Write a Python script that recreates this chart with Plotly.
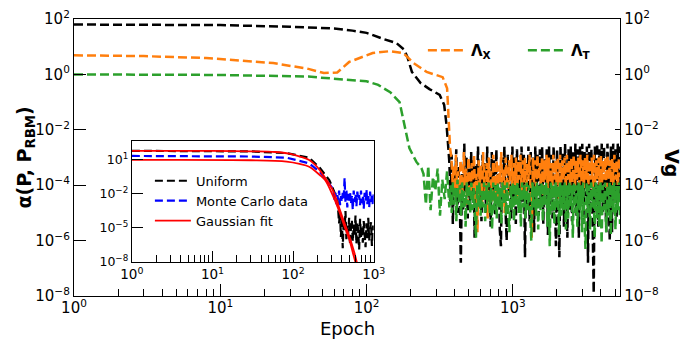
import numpy as np
import plotly.graph_objects as go

# ---------------- data (values are log10 of the plotted quantity) ----------------
# main panel, smooth parts: epochs and log10 values
black_ep = [1, 10, 30, 60, 80, 100, 130, 160, 180, 190, 204, 220, 234, 269, 316, 339, 352, 362]
black_log = [1.80, 1.78, 1.72, 1.66, 1.58, 1.50, 1.28, 1.13, 0.90, 0.63, 0.09, -0.15, -0.31,
             -0.53, -0.74, -1.10, -1.83, -2.66]
orange_ep = [1, 3, 8, 23, 40, 51, 63, 76, 110, 145, 178, 209, 257, 331, 355, 363, 372]
orange_log = [0.69, 0.66, 0.59, 0.41, 0.20, 0.05, 0.07, 0.45, 0.77, 0.84, 0.77, 0.41, 0.09,
              -0.10, -0.50, -1.47, -2.66]
green_ep = [1, 10, 40, 100, 120, 145, 168, 176, 196, 219, 237]
green_log = [0.00, -0.02, -0.08, -0.25, -0.38, -0.64, -1.00, -1.47, -2.66, -3.16, -3.38]

# green: first, sparse oscillations right after its drop (log10 values)
green_early_log = [-3.6, -4.7, -3.3, -4.9, -3.7, -4.2, -3.4, -5.1, -3.8, -4.5, -3.5, -4.8]
green_early_span = (245, 368)

# main panel, noisy parts (log10 values)
black_noise_log = [
    -3.2, -4.6, -2.9, -5.4, -3.5, -4.2, -2.7, -5.0, -3.3, -4.4,
    -6.8, -3.6, -4.9, -2.5, -4.3, -3.0, -5.2, -3.4, -4.7, -2.8,
    -4.5, -3.1, -5.9, -3.3, -4.1, -2.6, -4.8, -3.5, -5.3, -2.9,
    -4.4, -3.2, -5.0, -2.6, -4.6, -3.4, -5.5, -2.8, -4.2, -3.1,
    -5.1, -2.7, -4.5, -3.3, -5.6, -6.2, -3.0, -4.3, -2.6, -4.9,
    -6.0, -2.9, -4.4, -3.2, -5.2, -2.6, -4.7, -3.0, -5.4, -2.7,
    -4.3, -3.1, -5.0, -2.6, -4.6, -2.9, -6.6, -3.2, -4.8, -2.6,
    -5.3, -2.8, -4.5, -3.0, -5.7, -2.6, -4.4, -2.9, -5.1, -2.7,
    -4.6, -2.6, -5.4, -3.0, -4.2, -2.7, -5.8, -2.6, -4.7, -2.9,
    -5.2, -2.6, -4.4, -6.2, -2.7, -5.0, -6.6, -2.6, -4.6, -2.8,
    -5.5, -2.5, -4.3, -5.9, -2.7, -4.9, -2.6, -5.3, -2.8, -4.5,
    -2.5, -5.1, -2.7, -5.9, -2.6, -4.7, -2.5, -5.4, -2.8, -4.4,
    -2.6, -6.8, -2.5, -4.8, -2.7, -5.2, -7.9, -2.6, -4.6, -2.5,
    -5.5, -2.7, -4.3, -2.5, -5.0, -2.6, -4.7, -5.7, -2.5, -4.9,
    -6.0, -2.6, -5.7, -2.5, -4.5, -2.7, -5.2, -2.5, -4.4, -2.6]
orange_noise_log = [
    -3.0, -3.9, -3.3, -4.4, -2.9, -4.1, -3.5, -4.6, -3.1, -3.8,
    -4.3, -2.8, -4.0, -3.4, -4.7, -3.0, -3.9, -4.4, -3.2, -4.1,
    -2.9, -4.5, -3.6, -5.7, -3.1, -4.0, -3.3, -4.8, -2.8, -3.9,
    -4.2, -3.2, -5.2, -3.0, -4.0, -3.5, -4.6, -2.9, -3.8, -4.3,
    -3.1, -4.5, -3.3, -3.9, -2.8, -4.2, -3.4, -5.0, -3.0, -3.8,
    -4.4, -3.1, -3.9, -2.9, -4.3, -3.2, -4.0, -3.0, -4.6, -3.1,
    -3.8, -2.9, -4.2, -3.1, -3.9, -3.0, -4.5, -3.2, -3.8, -2.9,
    -4.1, -5.9, -3.0, -3.9, -3.1, -4.3, -2.9, -3.8, -3.2, -4.0,
    -3.0, -4.4, -3.1, -3.8, -2.9, -4.1, -3.0, -3.9, -3.2, -4.2,
    -2.9, -3.8, -3.1, -4.0, -3.0, -4.5, -2.9, -3.9, -3.1, -3.8,
    -3.0, -4.1, -2.9, -3.8, -3.1, -4.0, -3.0, -3.9, -2.9, -4.2,
    -3.1, -3.8, -3.0, -4.0, -2.9, -3.9, -3.1, -4.1, -3.0, -3.8,
    -2.9, -4.0, -3.1, -3.8, -3.0, -4.2, -2.9, -3.9, -3.1, -3.8,
    -3.0, -4.0, -2.9, -3.9, -3.1, -3.8, -3.0, -4.1, -2.9, -3.8,
    -3.1, -3.9, -3.0, -4.0, -2.9, -3.8, -3.1, -4.0, -3.0, -3.7]
green_noise_log = [
    -4.0, -5.0, -3.9, -4.7, -4.1, -5.3, -3.8,
    -4.6, -4.0, -5.1, -3.9, -4.8, -4.2, -5.5, -3.9, -4.7, -4.0, -5.0,
    -3.9, -4.9, -4.1, -5.2, -5.9, -4.0, -4.8, -3.9, -5.1, -4.2,
    -4.8, -3.9, -5.3, -4.0, -4.7, -3.9, -5.0, -4.1, -5.6, -3.9,
    -4.9, -4.0, -5.2, -3.9, -4.8, -4.1, -5.4, -3.9, -4.7, -4.0,
    -5.1, -3.9, -4.8, -5.7, -4.0, -4.9, -3.9, -5.3, -4.0, -4.7,
    -3.9, -5.0, -4.1, -5.5, -3.9, -4.8, -4.0, -5.2, -3.9, -4.9,
    -4.0, -5.4, -6.0, -3.9, -4.8, -4.0, -5.1, -3.9, -5.6, -4.0,
    -4.9, -3.9, -5.3, -4.0, -4.7, -3.9, -5.5, -4.1, -6.2, -3.9,
    -5.0, -4.0, -5.4, -3.9, -4.8, -4.0, -5.8, -3.9, -5.1, -4.0,
    -4.9, -3.9, -5.6, -4.0, -5.2, -3.9, -4.8, -4.0, -5.9, -3.9,
    -5.0, -4.0, -5.5, -3.9, -4.9, -4.0, -5.7, -3.9, -5.2, -6.3,
    -3.9, -5.0, -4.0, -5.6, -3.9, -4.8, -4.0, -5.9, -3.9, -5.2,
    -4.0, -5.5, -3.9, -6.1, -4.0, -4.9, -3.9, -5.7, -4.0, -5.1,
    -3.9, -5.8, -4.0, -5.0, -3.9, -5.6, -4.0, -4.9, -3.9, -5.4]
black_noise_span = (368, 5400)
orange_noise_span = (380, 5400)
green_noise_span = (375, 5400)

# inset
in_black_ep = [1, 30, 83, 158, 214, 282, 355]
in_black_log = [1.80, 1.75, 1.60, 1.20, 0.30, -0.80, -2.50]
in_black_noise_log = [
    -3.2, -4.6, -3.6, -5.8, -4.0, -6.8, -4.4, -5.2, -3.5, -6.0,
    -4.8, -5.5, -4.1, -6.5, -5.0, -4.3, -6.2, -4.7, -5.6, -3.9,
    -6.4, -4.5, -5.3, -6.9, -4.2, -5.8, -4.9, -6.3, -4.4, -5.5,
    -6.7, -4.6, -5.9, -4.1, -6.1, -5.0, -4.5, -6.6, -4.8, -5.4]
in_blue_ep = [1, 30, 83, 158, 214, 257, 309]
in_blue_log = [1.35, 1.30, 1.20, 0.70, -0.05, -0.80, -1.50]
in_blue_noise_log = [
    -1.8, -2.6, -1.9, -2.9, -2.1, -2.5, -1.7, -3.0, -2.2, -2.7,
    -1.9, -2.4, -0.6, -2.8, -1.6, -3.2, -2.0, -2.6, -1.8, -2.9,
    -2.2, -3.4, -1.7, -2.7, -2.0, -3.1, -1.8, -2.5, -2.1, -3.0,
    -1.7, -2.8, -2.2, -3.3, -1.9, -2.6, -1.6, -2.9, -2.1, -3.2,
    -1.8, -2.7, -2.0, -3.0, -1.9]
in_black_noise_span = (362, 1000)
in_blue_noise_span = (318, 1000)
fit_hi_ep = [1, 10, 30, 60, 90, 120, 158, 185, 214, 250, 280, 309, 345, 380, 430, 501, 575, 640]
fit_hi_log = [1.80, 1.79, 1.76, 1.70, 1.55, 1.30, 1.00, 0.60, 0.10, -0.60, -1.10, -1.65,
              -2.50, -3.40, -4.50, -5.80, -7.20, -8.50]
fit_lo_ep = [1, 30, 83, 120, 158, 214, 250, 309, 345, 380, 430, 501, 560, 620]
fit_lo_log = [1.00, 0.97, 0.85, 0.65, 0.40, -0.33, -0.80, -2.10, -2.90, -3.70, -4.80,
              -6.10, -7.40, -8.50]

# tick labels
main_x_tickvals = [1, 10, 100, 1000]
main_x_ticktext = ["10<sup>0</sup>", "10<sup>1</sup>", "10<sup>2</sup>", "10<sup>3</sup>"]
main_y_tickvals = [1e-8, 1e-6, 1e-4, 1e-2, 1, 1e2]
main_y_ticktext = ["10<sup>−8</sup>", "10<sup>−6</sup>", "10<sup>−4</sup>", "10<sup>−2</sup>",
                   "10<sup>0</sup>", "10<sup>2</sup>"]
in_y_tickvals = [1e-8, 1e-5, 1e-2, 10]
in_y_ticktext = ["10<sup>−8</sup>", "10<sup>−5</sup>", "10<sup>−2</sup>", "10<sup>1</sup>"]
minor_vals = [m * 10 ** k for k in range(4) for m in range(2, 10)]


def series(ep, logv, parts=()):
    x = list(ep)
    y = list(logv)
    for noise_log, span in parts:
        x += list(np.geomspace(span[0], span[1], len(noise_log)))
        y += list(noise_log)
    return np.array(x), 10 ** np.array(y)


FONT = "DejaVu Sans"
DASH = "9px,4px"
fig = go.Figure()

bx, by = series(black_ep, black_log, [(black_noise_log, black_noise_span)])
ox, oy = series(orange_ep, orange_log, [(orange_noise_log, orange_noise_span)])
gx, gy = series(green_ep, green_log, [(green_early_log, green_early_span),
                                      (green_noise_log, green_noise_span)])
fig.add_trace(go.Scatter(x=bx, y=by, mode="lines", name="Vg", showlegend=False,
                         line=dict(color="black", width=2.5, dash=DASH), xaxis="x", yaxis="y"))
fig.add_trace(go.Scatter(x=ox, y=oy, mode="lines", name="<b>Λ<sub>X</sub></b>", legend="legend",
                         line=dict(color="#ff7f0e", width=2.5, dash=DASH), xaxis="x", yaxis="y2"))
fig.add_trace(go.Scatter(x=gx, y=gy, mode="lines", name="<b>Λ<sub>T</sub></b>", legend="legend",
                         line=dict(color="#2ca02c", width=2.5, dash=DASH), xaxis="x", yaxis="y2"))

ibx, iby = series(in_black_ep, in_black_log, [(in_black_noise_log, in_black_noise_span)])
iux, iuy = series(in_blue_ep, in_blue_log, [(in_blue_noise_log, in_blue_noise_span)])
fhx, fhy = series(fit_hi_ep, fit_hi_log)
flx, fly = series(fit_lo_ep, fit_lo_log)
fig.add_trace(go.Scatter(x=ibx, y=iby, mode="lines", name="Uniform", legend="legend2",
                         line=dict(color="black", width=2.2, dash="8px,4px"), xaxis="x2", yaxis="y3"))
fig.add_trace(go.Scatter(x=iux, y=iuy, mode="lines", name="Monte Carlo data", legend="legend2",
                         line=dict(color="#0000ff", width=2.2, dash="8px,4px"), xaxis="x2", yaxis="y3"))
fig.add_trace(go.Scatter(x=fhx, y=fhy, mode="lines", name="Gaussian fit", legend="legend2",
                         line=dict(color="#ff0000", width=1.8, shape="spline"), xaxis="x2", yaxis="y3"))
fig.add_trace(go.Scatter(x=flx, y=fly, mode="lines", name="Gaussian fit", showlegend=False,
                         line=dict(color="#ff0000", width=1.8, shape="spline"), xaxis="x2", yaxis="y3"))

axis_common = dict(showgrid=False, zeroline=False, showline=True, linecolor="black",
                   ticks="inside", tickcolor="black", tickwidth=1, automargin=False)

fig.update_layout(
    width=692, height=339,
    margin=dict(l=74, r=72, t=19, b=43),
    paper_bgcolor="white", plot_bgcolor="white",
    font=dict(family=FONT, color="black"),
    xaxis=dict(type="log", range=[0, 3.732], domain=[0, 1], anchor="y",
               tickvals=main_x_tickvals, ticktext=main_x_ticktext, ticklen=12,
               linewidth=1.3, mirror=True, tickfont=dict(size=15), ticklabelstandoff=-2,
               minor=dict(ticks="inside", ticklen=7, tickvals=minor_vals, tickcolor="black",
                          showgrid=False),
               **axis_common),
    yaxis=dict(type="log", range=[-8, 2], anchor="x", tickvals=main_y_tickvals,
               ticktext=main_y_ticktext, ticklen=12, linewidth=1.3, tickfont=dict(size=15),
               **axis_common),
    yaxis2=dict(type="log", range=[-8, 2], anchor="x", overlaying="y", side="right",
                tickvals=main_y_tickvals, ticktext=main_y_ticktext, ticklen=5, linewidth=1.3,
                tickfont=dict(size=15), **axis_common),
    xaxis2=dict(type="log", range=[0, 3], domain=[0.106, 0.549], anchor="y3",
                tickvals=main_x_tickvals, ticktext=main_x_ticktext, ticklen=11,
                linewidth=1.2, mirror=True, tickfont=dict(size=13.5),
                minor=dict(ticks="inside", ticklen=7, tickvals=minor_vals[:24], tickcolor="black",
                           showgrid=False),
                **axis_common),
    yaxis3=dict(type="log", range=[-8, 2.68], domain=[0.123, 0.56], anchor="x2",
                tickvals=in_y_tickvals, ticktext=in_y_ticktext, ticklen=11, linewidth=1.2,
                mirror=True, tickfont=dict(size=12.5), **axis_common),
    legend=dict(orientation="h", x=0.639, xanchor="left", y=0.946, yanchor="top",
                bgcolor="rgba(0,0,0,0)", font=dict(size=15), itemwidth=38,
                entrywidth=47, entrywidthmode="pixels"),
    legend2=dict(orientation="v", x=0.139, xanchor="left", y=0.47, yanchor="top",
                 bgcolor="rgba(0,0,0,0)", font=dict(size=13), itemwidth=36),
    annotations=[
        dict(text="<b>α(P, P<sub>RBM</sub>)</b>", xref="paper", yref="paper", x=-0.0897, y=0.5,
             xanchor="center", yanchor="middle", textangle=-90, showarrow=False,
             font=dict(size=19)),
        dict(text="<b>Vg</b>", xref="paper", yref="paper", x=1.095, y=0.48,
             xanchor="center", yanchor="middle", textangle=90, showarrow=False,
             font=dict(size=19)),
        dict(text="Epoch", xref="paper", yref="paper", x=0.5, y=-0.119,
             xanchor="center", yanchor="middle", showarrow=False, font=dict(size=18)),
    ],
)

fig.write_html("out.html", config={"displayModeBar": False},
               post_script="document.body.style.margin='0px';document.body.style.overflow='hidden';")
